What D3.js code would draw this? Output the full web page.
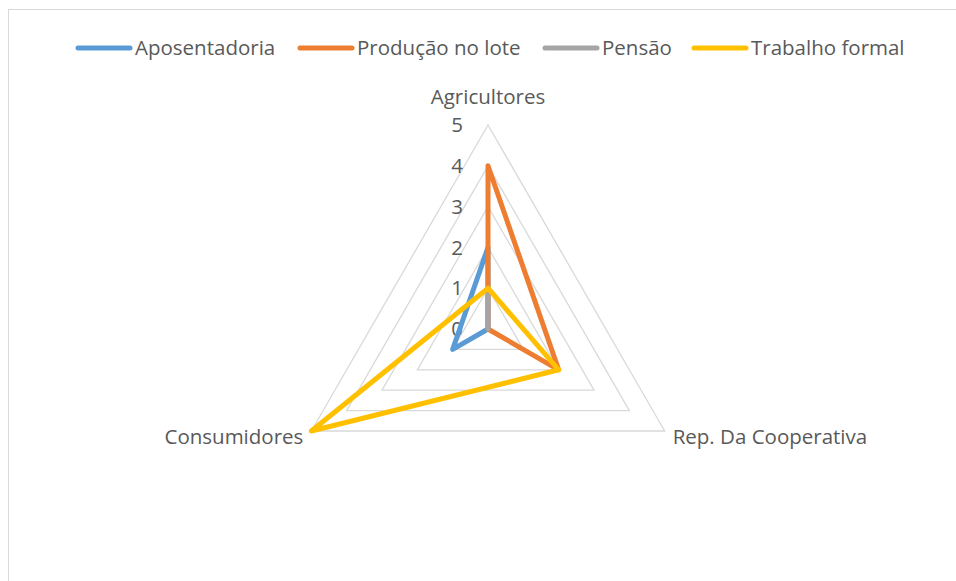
<!DOCTYPE html>
<html><head><meta charset="utf-8">
<script src="https://cdn.jsdelivr.net/npm/d3@7"></script>
<style>body{margin:0;background:#fff}svg{display:block}</style>
</head><body>
<script>
const axes = ["Agricultores", "Rep. Da Cooperativa", "Consumidores"];
const seriesNames = ["Aposentadoria", "Produção no lote", "Pensão", "Trabalho formal"];
const aposentadoria = [2, 0, 1];
const producaoNoLote = [4, 2, 0];
const pensao = [1, 0, 0];
const trabalhoFormal = [1, 2, 5];
const ticks = [0, 1, 2, 3, 4, 5];
const colors = ["#5b9bd5", "#ed7d31", "#a5a5a5", "#ffc000"];
const allSeries = [aposentadoria, producaoNoLote, pensao, trabalhoFormal];

const W = 956, H = 581;
const cx = 488, cy = 329, R = 204;
const font = "'Open Sans', sans-serif";
const fs = 20.5;
const svg = d3.select("body").append("svg").attr("width", W).attr("height", H);

svg.append("rect").attr("x", 8.5).attr("y", 9.5).attr("width", W + 20).attr("height", H + 20)
  .attr("fill", "#fff").attr("stroke", "#d9d9d9").attr("stroke-width", 1);

const r = d3.scaleLinear().domain([0, 5]).range([0, R]);
const ang = d3.scaleLinear().domain([0, axes.length]).range([0, 2 * Math.PI]);
const g = svg.append("g").attr("transform", `translate(${cx},${cy})`);

// grid
const gridLine = d3.lineRadial().angle((d, i) => ang(i)).radius(d => r(d)).curve(d3.curveLinearClosed);
ticks.filter(t => t > 0).forEach(t => {
  g.append("path").attr("d", gridLine(axes.map(() => t)))
    .attr("fill", "none").attr("stroke", "#d9d9d9").attr("stroke-width", 1.3);
});

// tick labels
g.selectAll(".tick").data(ticks).enter().append("text")
  .attr("x", -25).attr("y", d => -r(d)).attr("dy", "0.35em")
  .attr("text-anchor", "end").attr("font-family", font).attr("font-size", fs).attr("fill", "#595959")
  .text(d => d);

// series
const line = d3.lineRadial().angle((d, i) => ang(i)).radius(d => r(d)).curve(d3.curveLinearClosed);
allSeries.forEach((s, k) => {
  g.append("path").attr("d", line(s)).attr("fill", "none").attr("stroke", colors[k])
    .attr("stroke-width", 5).attr("stroke-linejoin", "round").attr("stroke-linecap", "round");
});

// axis labels
axes.forEach((a, i) => {
  const an = ang(i);
  const x = Math.sin(an) * R, y = -Math.cos(an) * R;
  let t = g.append("text").attr("font-family", font).attr("font-size", fs).attr("fill", "#595959").text(a);
  if (i === 0) t.attr("x", x).attr("y", y - 21).attr("text-anchor", "middle");
  else if (i === 1) t.attr("x", x + 8).attr("y", y + 6).attr("dy", "0.35em").attr("text-anchor", "start");
  else t.attr("x", x - 8).attr("y", y + 6).attr("dy", "0.35em").attr("text-anchor", "end");
});

// legend
const legX = [78, 300, 545, 694];
const lg = svg.append("g");
seriesNames.forEach((n, k) => {
  lg.append("line").attr("x1", legX[k]).attr("x2", legX[k] + 52).attr("y1", 48).attr("y2", 48)
    .attr("stroke", colors[k]).attr("stroke-width", 5).attr("stroke-linecap", "round");
  lg.append("text").attr("x", legX[k] + 57).attr("y", 48).attr("dy", "0.35em")
    .attr("font-family", font).attr("font-size", fs).attr("fill", "#595959").text(n);
});
</script>
</body></html>
